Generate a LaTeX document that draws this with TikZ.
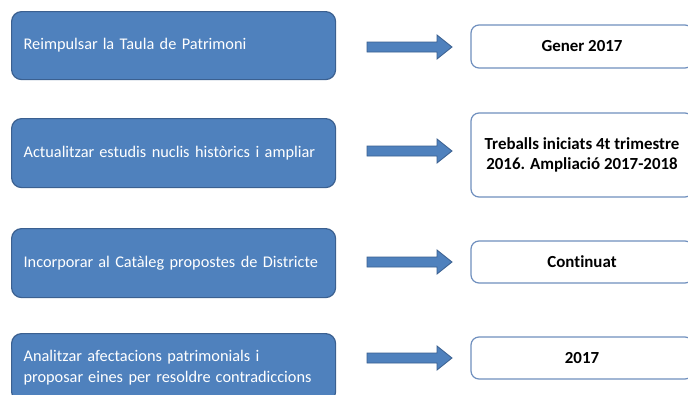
\documentclass[tikz,border=0pt]{standalone}
\usepackage{fontspec}
\setmainfont[Ligatures=NoCommon]{Carlito}
\definecolor{boxblue}{HTML}{4F81BD}
\definecolor{boxline}{HTML}{3B6090}
\definecolor{wline}{HTML}{6F8FBE}
\newcommand\blockarr[2]{%
  \draw[arrowshape] (367,#2-5) coordinate (#1) -- (437,#2-5) -- (437,#2-12) -- (452,#2) -- (437,#2+12) -- (437,#2+5) -- (367,#2+5) -- cycle;}
\newcommand\xsp{\hspace{5pt}}
\begin{document}
\begin{tikzpicture}[x=1pt,y=-1pt,
  bluebox/.style={rectangle, rounded corners=10pt, fill=boxblue, draw=boxline, line width=1.2pt,
    anchor=north west, minimum width=324pt, text width=300pt, inner xsep=12pt, align=left,
    text=white, font=\fontsize{16.3}{21}\selectfont},
  whitebox/.style={rectangle, rounded corners=8pt, fill=white, draw=wline, line width=1.2pt,
    minimum width=222pt, align=center, text=black, font=\fontsize{16.9}{20}\selectfont\bfseries},
  arrowshape/.style={fill=boxblue, draw=boxline, line width=0.8pt}]
\useasboundingbox (0,0) rectangle (688,394);
\clip (0,0) rectangle (688,394);
\fill[white] (0,0) rectangle (688,394);
% left boxes
\node[bluebox, minimum height=68pt] (b1) at (11,11) {Reimpulsar\xsp la Taula de Patrimoni};
\node[bluebox, minimum height=69pt] (b2) at (11,118) {Actualitzar\xsp estudis nuclis històrics i ampliar};
\node[bluebox, minimum height=69pt] (b3) at (11,228) {Incorporar\xsp al Catàleg propostes de Districte};
\node[bluebox, minimum height=68pt] (b4) at (11,333) {Analitzar afectacions patrimonials i\\proposar\xsp eines per resoldre\xsp contradiccions};
% arrows
\blockarr{a1}{47}
\blockarr{a2}{151}
\blockarr{a3}{262}
\blockarr{a4}{358}
% right boxes
\node[whitebox, minimum height=43pt] (w1) at (582,46.5) {Gener 2017};
\node[whitebox, minimum height=84pt] (w2) at (582,155) {Treballs iniciats 4t trimestre\\2016. Ampliació 2017-2018};
\node[whitebox, minimum height=42pt] (w3) at (582,262) {Continuat};
\node[whitebox, minimum height=42pt] (w4) at (582,358) {2017};
\end{tikzpicture}
\end{document}
